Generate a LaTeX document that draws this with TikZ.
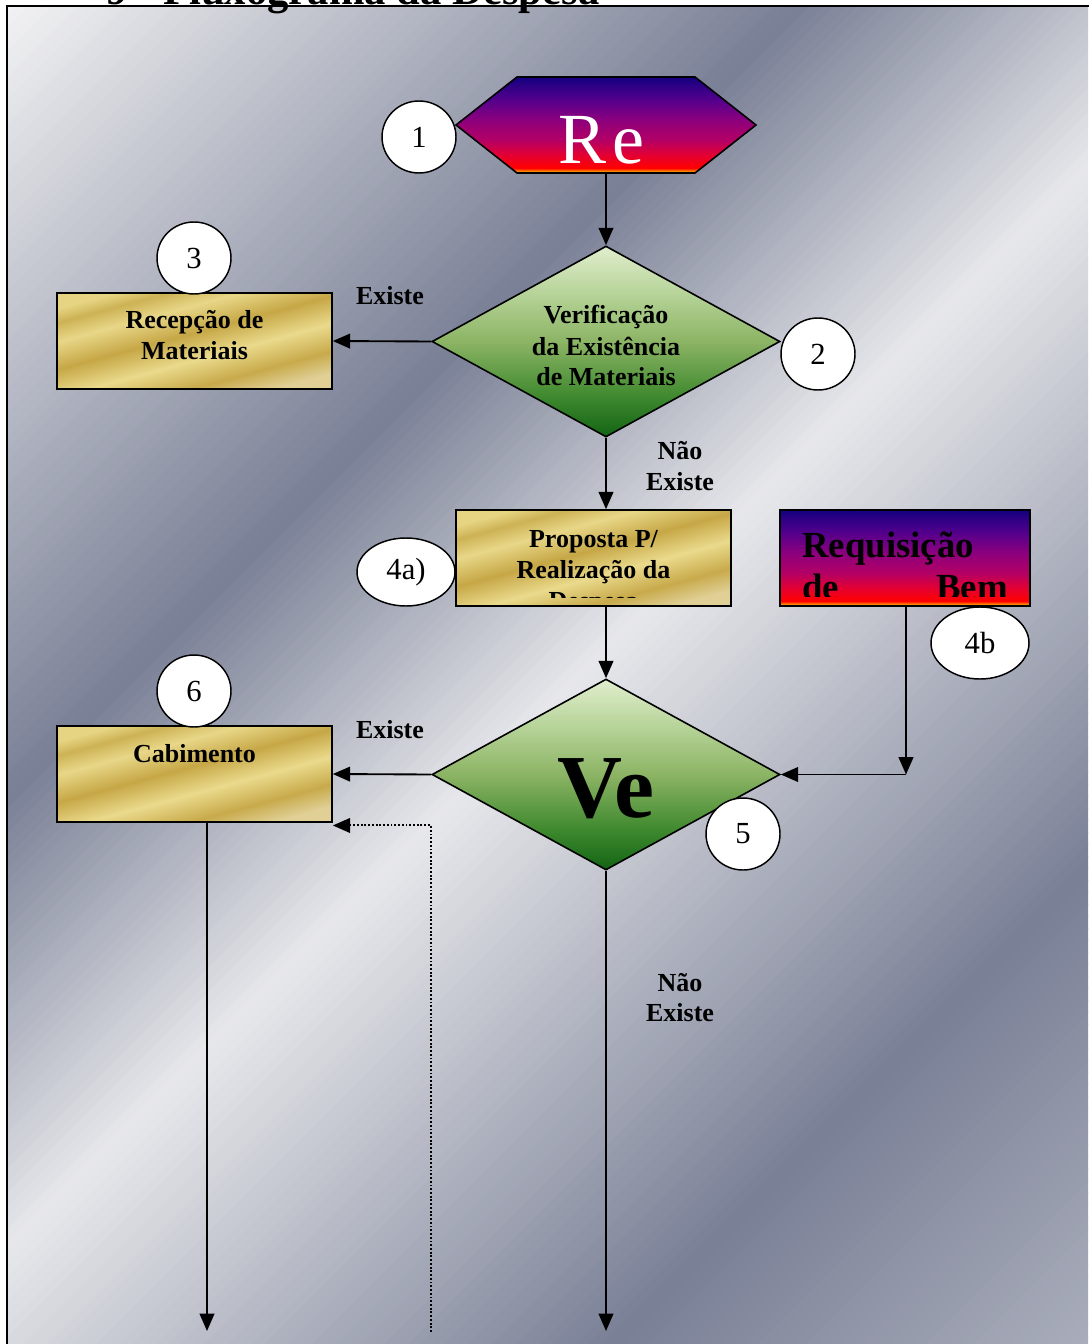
\documentclass[tikz,border=0pt]{standalone}
\usepackage{fontspec}
\setmainfont{Liberation Serif}
\usetikzlibrary{shapes.geometric,arrows.meta}
\definecolor{metL}{RGB}{244,244,245}
\definecolor{metD}{RGB}{122,128,150}
% hexagon / requisicao gradient
\definecolor{hx0}{RGB}{255,135,0}
\definecolor{hx1}{RGB}{255,0,0}
\definecolor{hx2}{RGB}{228,0,50}
\definecolor{hx3}{RGB}{180,0,100}
\definecolor{hx4}{RGB}{140,0,125}
\definecolor{hx5}{RGB}{85,0,140}
\definecolor{hx6}{RGB}{20,0,128}
\pgfdeclareverticalshading{hexshade}{100bp}{color(0bp)=(hx0); color(25bp)=(hx0); color(26bp)=(hx0); color(27.6bp)=(hx1); color(34.4bp)=(hx2); color(42bp)=(hx3); color(52.6bp)=(hx4); color(63bp)=(hx5); color(75bp)=(hx6); color(100bp)=(hx6)}
% green
\definecolor{gr0}{RGB}{18,100,20}
\definecolor{gr1}{RGB}{60,135,45}
\definecolor{gr2}{RGB}{140,180,100}
\definecolor{gr3}{RGB}{180,210,150}
\definecolor{gr4}{RGB}{225,238,205}
\pgfdeclareverticalshading{greenshade}{100bp}{color(0bp)=(gr0); color(25bp)=(gr0); color(35bp)=(gr1); color(50bp)=(gr2); color(62bp)=(gr3); color(75bp)=(gr4); color(100bp)=(gr4)}
% gold
\definecolor{gd0}{RGB}{224,208,150}
\definecolor{gd1}{RGB}{200,170,75}
\definecolor{gd2}{RGB}{234,218,140}
\definecolor{gd3}{RGB}{198,167,70}
\definecolor{gd4}{RGB}{232,215,136}
\definecolor{gd5}{RGB}{205,178,85}
\definecolor{gd6}{RGB}{230,212,130}
\pgfdeclareverticalshading{goldshade}{100bp}{color(0bp)=(gd0); color(25bp)=(gd0); color(33bp)=(gd1); color(43bp)=(gd2); color(53bp)=(gd3); color(63bp)=(gd4); color(70bp)=(gd5); color(75bp)=(gd6); color(100bp)=(gd6)}

\tikzset{
  lab/.style={font=\bfseries\fontsize{19.5}{22}\selectfont, inner sep=0pt, anchor=base},
  numc/.style={ellipse, draw, fill=white, line width=1.1pt, inner sep=0pt,
    font=\fontsize{23}{23}\selectfont, minimum width=55.5pt, minimum height=54pt},
  goldbox/.style={rectangle, draw, line width=1.2pt, shade, shading=goldshade, shading angle=15,
    minimum width=206.25pt, minimum height=72pt, inner sep=0pt},
  dia/.style={diamond, draw, line width=1.2pt, shade, shading=greenshade,
    minimum width=261pt, minimum height=143.25pt, inner sep=0pt},
  conn/.style={line width=1.4pt, -{Triangle[length=13pt,width=11pt]}},
  dotconn/.style={line width=1.5pt, dash pattern=on 1.4pt off 1.4pt, -{Triangle[length=13pt,width=11pt]}},
}

\begin{document}
\begin{tikzpicture}[x=0.75pt,y=-0.75pt]
\useasboundingbox (0,0) rectangle (1088,1344);
\fill[white] (0,0) rectangle (1088,1344);
% metallic background: diagonal bands (x+y = t)
\begin{scope}
\clip (7,6) rectangle (1088,1344);
\foreach \t in {0,12,...,792}{
  \pgfmathtruncatemacro\pp{100-\t/8}
  \fill[metL!\pp!metD] (\t,0) -- (\t+13,0) -- (\t-1387,1400) -- (\t-1400,1400) -- cycle;
}
\foreach \t in {804,816,...,1248}{
  \pgfmathtruncatemacro\pp{(\t-800)/5}
  \fill[metL!\pp!metD] (\t,0) -- (\t+13,0) -- (\t-1387,1400) -- (\t-1400,1400) -- cycle;
}
\foreach \t in {1260,1272,...,1944}{
  \pgfmathtruncatemacro\pp{90-(\t-1250)*9/70}
  \fill[metL!\pp!metD] (\t,0) -- (\t+13,0) -- (\t-1387,1400) -- (\t-1400,1400) -- cycle;
}
\foreach \t in {1956,1968,...,2448}{
  \pgfmathtruncatemacro\pp{(\t-1950)/12}
  \fill[metL!\pp!metD] (\t,0) -- (\t+13,0) -- (\t-1387,1400) -- (\t-1400,1400) -- cycle;
}
\end{scope}
\draw[line width=1.5pt] (7,6) rectangle (1100,1360);

% title (cut off at the top)
\begin{scope}
\clip (0,0) rectangle (1088,1344);
\node[font=\bfseries\fontsize{32}{32}\selectfont, inner sep=0pt, anchor=base west] (tnum) at (106,4.5) {9};
\node[font=\bfseries\fontsize{32}{32}\selectfont, inner sep=0pt, anchor=base west] (title) at (163,4.5) {Fluxograma da Despesa};
\end{scope}

% hexagon 1
\node[minimum width=224.25pt, minimum height=72pt, inner sep=0pt] (hex) at (606,125) {};
\shade[shading=hexshade, draw, line width=1.2pt] (456,125) -- (517,77) -- (695,77) -- (756,125) -- (695,173) -- (517,173) -- cycle;
\begin{scope}
\clip (520,80) rectangle (658,164);
\node[font=\fontsize{54}{54}\selectfont, text=white, inner sep=0pt, anchor=base west] (hextxt) at (558,164) {R\kern 5pt e};
\end{scope}

% diamond 2
\node[dia] (d1) at (606,341.5) {};
\node[lab] (v1) at (606,324) {Verificação};
\node[lab] (v2) at (606,355) {da Existência};
\node[lab] (v3) at (606,385) {de Materiais};

% box 3
\node[goldbox] (rec) at (194.5,341) {};
\node[lab] (r1) at (194.5,329) {Recepção de};
\node[lab] (r2) at (194.5,359) {Materiais};

% box 4a
\node[goldbox] (prop) at (593.5,558) {};
\begin{scope}
\clip (456,510) rectangle (731,597);
\node[lab] (p1) at (593.5,547) {Proposta P/};
\node[lab] (p2) at (593.5,578) {Realização da};
\node[lab] (p3) at (593.5,609) {Despesa};
\end{scope}

% box 4b
\node[rectangle, draw, line width=1.2pt, shade, shading=hexshade, minimum width=187.5pt, minimum height=72pt, inner sep=0pt] (req) at (905,558) {};
\begin{scope}
\clip (781,511) rectangle (1029,596);
\node[font=\bfseries\fontsize{27.6}{30}\selectfont, inner sep=0pt, anchor=base west] (q1) at (802,557) {Requisição};
\node[font=\bfseries\fontsize{27.6}{30}\selectfont, inner sep=0pt, anchor=base west] (q2) at (802,599) {de};
\node[font=\bfseries\fontsize{27.6}{30}\selectfont, inner sep=0pt, anchor=base east] (q3) at (1008,599) {Bem};
\end{scope}

% diamond 5
\node[dia] (d2) at (606,774.5) {};
\node[font=\bfseries\fontsize{67.5}{67.5}\selectfont, inner sep=0pt, anchor=base] (ve) at (606,817) {Ve};

% box 6
\node[goldbox] (cab) at (194.5,774) {};
\node[lab] (c1) at (194.5,762) {Cabimento};

% connectors
\coordinate (j) at (906,774.5);
\coordinate (e1) at (606,1331);
\coordinate (e2) at (207,1331);
\coordinate (e3) at (431,1332);
\draw[conn] (hex.south) -- (d1.north);
\draw[conn] (d1.west) -- (rec.east);
\draw[conn] (d1.south) -- (d1.south |- prop.north);
\draw[conn] (d2.north |- prop.south) -- (d2.north);
\draw[conn] (j |- req.south) -- (j);
\draw[conn] (j) -- (d2.east);
\draw[conn] (d2.west) -- (cab.east);
\draw[conn] (d2.south) -- (e1);
\draw[conn] (e2 |- cab.south) -- (e2);
\draw[dotconn] (e3) |- ([yshift=-2pt]cab.south east);

% labels
\node[lab] (ex1) at (390,305) {Existe};
\node[lab] (ne1a) at (680,459) {Não};
\node[lab] (ne1b) at (680,490) {Existe};
\node[lab] (ex2) at (390,738) {Existe};
\node[lab] (ne2a) at (680,991) {Não};
\node[lab] (ne2b) at (680,1021) {Existe};

% numbered circles
\node[numc] (n1) at (419,137) {1};
\node[numc] (n2) at (818,354) {2};
\node[numc] (n3) at (194,258) {3};
\node[numc, minimum width=73.5pt, minimum height=51pt] (n4a) at (406,572) {4a)};
\node[numc, minimum width=73.5pt, minimum height=54pt] (n4b) at (980,643) {4b};
\node[numc] (n5) at (743,834) {5};
\node[numc] (n6) at (194,691) {6};
\end{tikzpicture}
\end{document}
